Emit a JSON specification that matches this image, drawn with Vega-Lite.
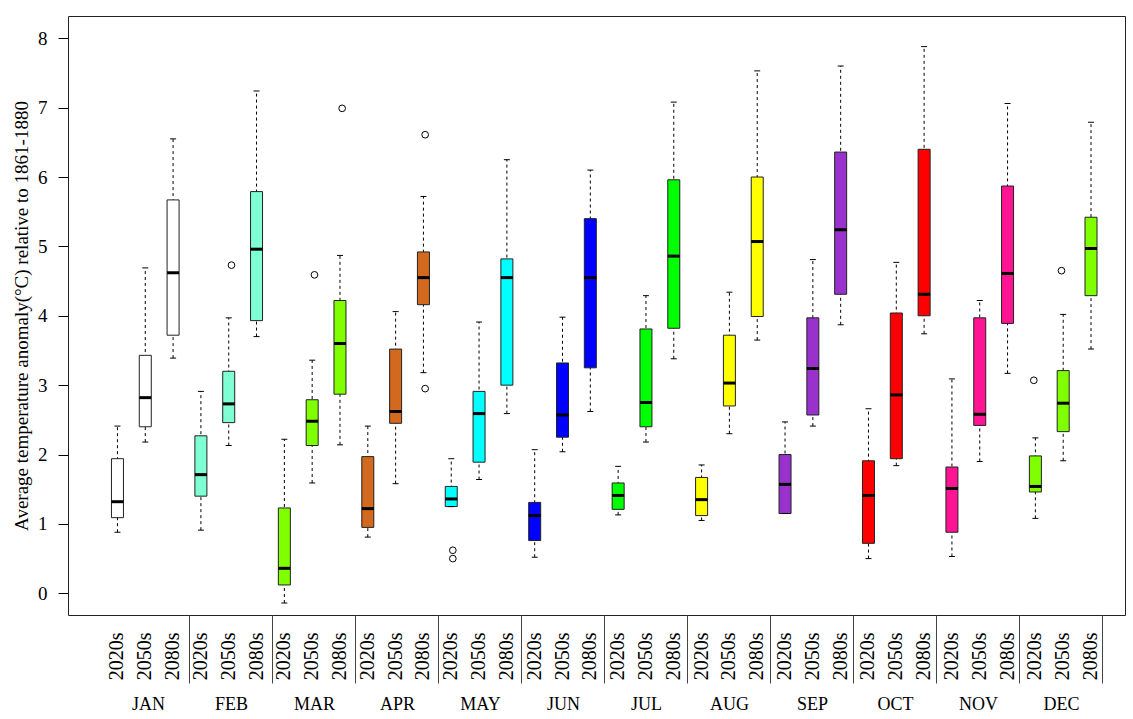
{
  "$schema": "https://vega.github.io/schema/vega-lite/v6.json",
  "width": 1057,
  "height": 599,
  "autosize": {"type": "none"},
  "padding": {"left": 68, "top": 16, "right": 8, "bottom": 104},
  "background": "white",
  "config": {
    "view": {"stroke": "#222", "strokeWidth": 1},
    "font": "Liberation Serif"
  },
  "datasets": {
    "boxes": [
      {"box": "JAN 2020s", "month": "JAN", "low": 0.88, "q1": 1.09, "med": 1.32, "q3": 1.94, "high": 2.41},
      {"box": "JAN 2050s", "month": "JAN", "low": 2.18, "q1": 2.40, "med": 2.82, "q3": 3.43, "high": 4.69},
      {"box": "JAN 2080s", "month": "JAN", "low": 3.39, "q1": 3.72, "med": 4.62, "q3": 5.67, "high": 6.55},
      {"box": "FEB 2020s", "month": "FEB", "low": 0.91, "q1": 1.40, "med": 1.71, "q3": 2.27, "high": 2.91},
      {"box": "FEB 2050s", "month": "FEB", "low": 2.13, "q1": 2.46, "med": 2.73, "q3": 3.20, "high": 3.97},
      {"box": "FEB 2080s", "month": "FEB", "low": 3.70, "q1": 3.93, "med": 4.96, "q3": 5.79, "high": 7.24},
      {"box": "MAR 2020s", "month": "MAR", "low": -0.14, "q1": 0.12, "med": 0.36, "q3": 1.23, "high": 2.22},
      {"box": "MAR 2050s", "month": "MAR", "low": 1.59, "q1": 2.13, "med": 2.48, "q3": 2.79, "high": 3.36},
      {"box": "MAR 2080s", "month": "MAR", "low": 2.14, "q1": 2.87, "med": 3.60, "q3": 4.22, "high": 4.87},
      {"box": "APR 2020s", "month": "APR", "low": 0.81, "q1": 0.95, "med": 1.22, "q3": 1.97, "high": 2.41},
      {"box": "APR 2050s", "month": "APR", "low": 1.58, "q1": 2.45, "med": 2.62, "q3": 3.52, "high": 4.06},
      {"box": "APR 2080s", "month": "APR", "low": 3.18, "q1": 4.16, "med": 4.55, "q3": 4.92, "high": 5.72},
      {"box": "MAY 2020s", "month": "MAY", "low": 1.25, "q1": 1.25, "med": 1.36, "q3": 1.54, "high": 1.94},
      {"box": "MAY 2050s", "month": "MAY", "low": 1.64, "q1": 1.89, "med": 2.59, "q3": 2.91, "high": 3.91},
      {"box": "MAY 2080s", "month": "MAY", "low": 2.59, "q1": 3.00, "med": 4.55, "q3": 4.82, "high": 6.25},
      {"box": "JUN 2020s", "month": "JUN", "low": 0.52, "q1": 0.76, "med": 1.12, "q3": 1.31, "high": 2.07},
      {"box": "JUN 2050s", "month": "JUN", "low": 2.04, "q1": 2.25, "med": 2.57, "q3": 3.32, "high": 3.98},
      {"box": "JUN 2080s", "month": "JUN", "low": 2.62, "q1": 3.25, "med": 4.55, "q3": 5.40, "high": 6.10},
      {"box": "JUL 2020s", "month": "JUL", "low": 1.13, "q1": 1.21, "med": 1.41, "q3": 1.59, "high": 1.83},
      {"box": "JUL 2050s", "month": "JUL", "low": 2.18, "q1": 2.40, "med": 2.75, "q3": 3.81, "high": 4.29},
      {"box": "JUL 2080s", "month": "JUL", "low": 3.38, "q1": 3.82, "med": 4.86, "q3": 5.96, "high": 7.08},
      {"box": "AUG 2020s", "month": "AUG", "low": 1.05, "q1": 1.12, "med": 1.35, "q3": 1.67, "high": 1.85},
      {"box": "AUG 2050s", "month": "AUG", "low": 2.30, "q1": 2.70, "med": 3.03, "q3": 3.72, "high": 4.34},
      {"box": "AUG 2080s", "month": "AUG", "low": 3.65, "q1": 3.99, "med": 5.07, "q3": 6.00, "high": 7.53},
      {"box": "SEP 2020s", "month": "SEP", "low": 1.15, "q1": 1.15, "med": 1.57, "q3": 2.00, "high": 2.47},
      {"box": "SEP 2050s", "month": "SEP", "low": 2.41, "q1": 2.57, "med": 3.24, "q3": 3.97, "high": 4.81},
      {"box": "SEP 2080s", "month": "SEP", "low": 3.87, "q1": 4.31, "med": 5.24, "q3": 6.36, "high": 7.60},
      {"box": "OCT 2020s", "month": "OCT", "low": 0.50, "q1": 0.72, "med": 1.41, "q3": 1.91, "high": 2.66},
      {"box": "OCT 2050s", "month": "OCT", "low": 1.84, "q1": 1.94, "med": 2.86, "q3": 4.04, "high": 4.77},
      {"box": "OCT 2080s", "month": "OCT", "low": 3.74, "q1": 4.00, "med": 4.31, "q3": 6.40, "high": 7.88},
      {"box": "NOV 2020s", "month": "NOV", "low": 0.53, "q1": 0.88, "med": 1.51, "q3": 1.82, "high": 3.09},
      {"box": "NOV 2050s", "month": "NOV", "low": 1.90, "q1": 2.42, "med": 2.58, "q3": 3.97, "high": 4.22},
      {"box": "NOV 2080s", "month": "NOV", "low": 3.17, "q1": 3.89, "med": 4.61, "q3": 5.87, "high": 7.06},
      {"box": "DEC 2020s", "month": "DEC", "low": 1.08, "q1": 1.46, "med": 1.54, "q3": 1.98, "high": 2.24},
      {"box": "DEC 2050s", "month": "DEC", "low": 1.91, "q1": 2.33, "med": 2.74, "q3": 3.21, "high": 4.02},
      {"box": "DEC 2080s", "month": "DEC", "low": 3.52, "q1": 4.29, "med": 4.97, "q3": 5.42, "high": 6.79}
    ],
    "outliers": [
      {"month": "FEB", "decade": "2050s", "value": 4.73},
      {"month": "MAR", "decade": "2050s", "value": 4.59},
      {"month": "MAR", "decade": "2080s", "value": 6.99},
      {"month": "APR", "decade": "2080s", "value": 6.61},
      {"month": "APR", "decade": "2080s", "value": 2.95},
      {"month": "MAY", "decade": "2020s", "value": 0.62},
      {"month": "MAY", "decade": "2020s", "value": 0.50},
      {"month": "DEC", "decade": "2020s", "value": 3.07},
      {"month": "DEC", "decade": "2050s", "value": 4.65}
    ]
  },
  "layer": [
    {
      "data": {"name": "boxes"},
      "encoding": {
        "x": {
          "field": "box", "type": "nominal", "sort": null,
          "scale": {"type": "band", "paddingInner": 0, "paddingOuter": 1.1023, "align": 0.639},
          "axis": {
            "orient": "bottom", "title": null, "ticks": false, "tickSize": 0, "domain": false, "grid": false,
            "labelAngle": -90, "labelAlign": "right", "labelBaseline": "middle", "labelPadding": 17,
            "labelExpr": "slice(datum.label, 4)", "labelFont": "Liberation Serif", "labelFontSize": 20,
            "labelColor": "black", "labelOverlap": false
          }
        }
      },
      "layer": [
        {
          "mark": {"type": "rule", "color": "black", "strokeWidth": 1, "strokeDash": [3, 3]},
          "encoding": {
            "y": {
              "field": "low", "type": "quantitative",
              "scale": {"domain": [-0.313, 8.321], "nice": false, "zero": false},
              "title": "Average temperature anomaly(°C) relative to 1861-1880",
              "axis": {
                "orient": "left", "values": [0, 1, 2, 3, 4, 5, 6, 7, 8], "format": "d", "grid": false, "domain": false,
                "tickSize": 10, "tickColor": "black", "labelPadding": 11,
                "labelFont": "Liberation Serif", "labelFontSize": 19, "labelColor": "black",
                "titleFont": "Liberation Serif", "titleFontSize": 19, "titleFontWeight": "normal",
                "titleColor": "black", "titleX": -41, "titleBaseline": "alphabetic"
              }
            },
            "y2": {"field": "high"}
          }
        },
        {
          "mark": {"type": "bar", "width": 12, "stroke": "#222", "strokeWidth": 1, "opacity": 1},
          "encoding": {
            "y": {"field": "q1", "type": "quantitative", "scale": {"domain": [-0.313, 8.321], "nice": false, "zero": false}, "title": "Average temperature anomaly(°C) relative to 1861-1880"},
            "y2": {"field": "q3"},
            "fill": {
              "field": "month", "type": "nominal", "legend": null,
              "scale": {
                "domain": ["JAN", "FEB", "MAR", "APR", "MAY", "JUN", "JUL", "AUG", "SEP", "OCT", "NOV", "DEC"],
                "range": ["#FFFFFF", "#7FFFD4", "#7FFF00", "#D2691E", "#00FFFF", "#0000FF", "#00FF00", "#FFFF00", "#9932CC", "#FF0000", "#FF1493", "#7FFF00"]
              }
            }
          }
        },
        {
          "mark": {"type": "tick", "color": "black", "size": 12, "thickness": 3, "opacity": 1},
          "encoding": {
            "y": {"field": "med", "type": "quantitative", "scale": {"domain": [-0.313, 8.321], "nice": false, "zero": false}, "title": "Average temperature anomaly(°C) relative to 1861-1880"}
          }
        },
        {
          "mark": {"type": "tick", "color": "black", "size": 6, "thickness": 1, "opacity": 1},
          "encoding": {
            "y": {"field": "low", "type": "quantitative", "scale": {"domain": [-0.313, 8.321], "nice": false, "zero": false}, "title": "Average temperature anomaly(°C) relative to 1861-1880"}
          }
        },
        {
          "mark": {"type": "tick", "color": "black", "size": 6, "thickness": 1, "opacity": 1},
          "encoding": {
            "y": {"field": "high", "type": "quantitative", "scale": {"domain": [-0.313, 8.321], "nice": false, "zero": false}, "title": "Average temperature anomaly(°C) relative to 1861-1880"}
          }
        }
      ]
    },
    {
      "data": {"name": "outliers"},
      "mark": {"type": "point", "shape": "circle", "filled": false, "size": 45, "stroke": "black", "strokeWidth": 1, "opacity": 1},
      "encoding": {
        "x": {
          "field": "month", "type": "nominal",
          "scale": {
            "type": "band",
            "domain": ["JAN", "FEB", "MAR", "APR", "MAY", "JUN", "JUL", "AUG", "SEP", "OCT", "NOV", "DEC"],
            "paddingInner": 0, "paddingOuter": 0.3675, "align": 0.639
          },
          "axis": {
            "orient": "bottom", "title": null, "domain": false, "grid": false,
            "bandPosition": 1, "tickExtra": false, "tickSize": 68, "tickColor": "#444", "tickWidth": 1,
            "labelPadding": 12, "labelAngle": 0, "labelBaseline": "top",
            "labelFont": "Liberation Serif", "labelFontSize": 18, "labelColor": "black", "labelOverlap": false
          }
        },
        "xOffset": {
          "field": "decade", "type": "nominal",
          "scale": {"type": "point", "domain": ["2020s", "2050s", "2080s"], "padding": 0.5}
        },
        "y": {"field": "value", "type": "quantitative", "scale": {"domain": [-0.313, 8.321], "nice": false, "zero": false}, "title": "Average temperature anomaly(°C) relative to 1861-1880"}
      }
    }
  ],
  "resolve": {"scale": {"x": "independent"}, "axis": {"x": "independent"}}
}
